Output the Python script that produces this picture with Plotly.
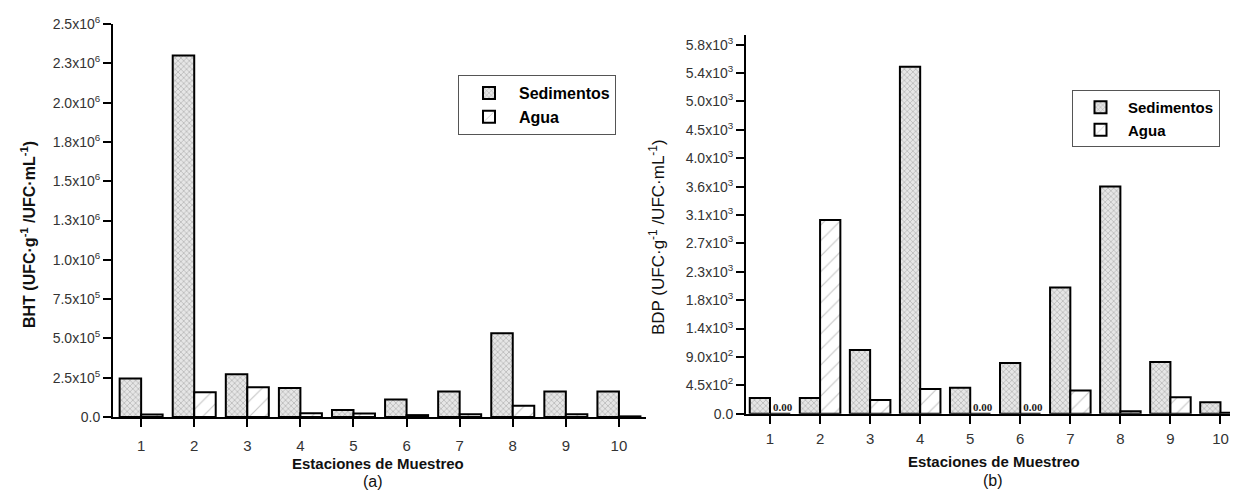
import plotly.graph_objects as go

stations = [1, 2, 3, 4, 5, 6, 7, 8, 9, 10]

# Panel (a): BHT
bht_sed = [245000, 2300000, 272000, 185000, 45000, 112000, 163000, 532000, 163000, 163000]
bht_agua = [16000, 158000, 190000, 24000, 22000, 12000, 18000, 72000, 18000, 4000]
bht_tickvals = [0, 250000, 500000, 750000, 1000000, 1250000, 1500000, 1750000, 2000000, 2250000, 2500000]
bht_ticktext = ["0.0", "2.5x10<sup>5</sup>", "5.0x10<sup>5</sup>", "7.5x10<sup>5</sup>",
                "1.0x10<sup>6</sup>", "1.3x10<sup>6</sup>", "1.5x10<sup>6</sup>", "1.8x10<sup>6</sup>",
                "2.0x10<sup>6</sup>", "2.3x10<sup>6</sup>", "2.5x10<sup>6</sup>"]

# Panel (b): BDP
bdp_sed = [250, 250, 1010, 5500, 413, 805, 2000, 3600, 820, 180]
bdp_agua = [0, 3070, 217, 391, 0, 0, 366, 40, 260, 15]
bdp_tickvals = [0, 450, 900, 1350, 1800, 2250, 2700, 3150, 3600, 4050, 4500, 4950, 5400, 5850]
bdp_ticktext = ["0.0", "4.5x10<sup>2</sup>", "9.0x10<sup>2</sup>", "1.4x10<sup>3</sup>",
                "1.8x10<sup>3</sup>", "2.3x10<sup>3</sup>", "2.7x10<sup>3</sup>", "3.1x10<sup>3</sup>",
                "3.6x10<sup>3</sup>", "4.0x10<sup>3</sup>", "4.5x10<sup>3</sup>", "5.0x10<sup>3</sup>",
                "5.4x10<sup>3</sup>", "5.8x10<sup>3</sup>"]

FONT = "Liberation Sans, Arial, sans-serif"
sed_pattern = dict(shape="x", fgcolor="#5a5a5a", bgcolor="#e6e6e6", size=4, solidity=0.25)
agua_pattern = dict(shape="/", fgcolor="#8a8a8a", bgcolor="white", size=11, solidity=0.1)
line = dict(color="black", width=2)

fig = go.Figure()
fig.add_trace(go.Bar(x=stations, y=bht_sed, name="Sedimentos", marker=dict(color="#e6e6e6", pattern=sed_pattern, line=line),
                     xaxis="x", yaxis="y", legend="legend", offsetgroup="s"))
fig.add_trace(go.Bar(x=stations, y=bht_agua, name="Agua", marker=dict(color="white", pattern=agua_pattern, line=line),
                     xaxis="x", yaxis="y", legend="legend", offsetgroup="a"))
fig.add_trace(go.Bar(x=stations, y=bdp_sed, name="Sedimentos", marker=dict(color="#e6e6e6", pattern=sed_pattern, line=line),
                     xaxis="x2", yaxis="y2", legend="legend2", offsetgroup="s"))
fig.add_trace(go.Bar(x=stations, y=bdp_agua, name="Agua", marker=dict(color="white", pattern=agua_pattern, line=line),
                     xaxis="x2", yaxis="y2", legend="legend2", offsetgroup="a"))

zx = [s + 0.25 for s, v in zip(stations, bdp_agua) if v == 0]
zy = [v for v in bdp_agua if v == 0]
fig.add_trace(go.Scatter(x=zx, y=zy, mode="text", text=[f"<b>{v:.2f}</b>" for v in zy], textposition="top center",
                         textfont=dict(family="Liberation Serif, serif", size=11, color="#222"),
                         xaxis="x2", yaxis="y2", showlegend=False, hoverinfo="skip"))

# page is rendered with an 8px body margin; map page pixel coords to figure fractions
OFF = 8
W, H = 1238 - OFF, 492 - OFF
def px(v): return (v - OFF) / W
def py(v): return 1 - (v - OFF) / H

axis_common = dict(showline=True, linecolor="black", linewidth=2, ticks="outside", ticklen=8, tickwidth=2,
                   tickcolor="black", showgrid=False, zeroline=False, mirror=False, automargin=False)
yfont = dict(family=FONT, size=14, color="#333")
xfont = dict(family=FONT, size=15, color="#333")

fig.update_layout(
    width=W, height=H, margin=dict(l=0, r=0, t=0, b=0, autoexpand=False),
    paper_bgcolor="white", plot_bgcolor="white",
    barmode="group", bargap=0.19, bargroupgap=0,
    xaxis=dict(domain=[px(113), px(646)], range=[0.47, 10.51], tickvals=stations, anchor="y",
               tickfont=xfont, ticklabelstandoff=6, **axis_common),
    yaxis=dict(domain=[py(417), py(24)], range=[0, 2500000], tickvals=bht_tickvals, ticktext=bht_ticktext,
               anchor="x", tickfont=yfont, **axis_common),
    xaxis2=dict(domain=[px(746), 1.0], range=[0.52, 10.35], tickvals=stations, anchor="y2",
                tickfont=xfont, ticklabelstandoff=2, **axis_common),
    yaxis2=dict(domain=[py(413.7), py(35.2)], range=[0, 6000], tickvals=bdp_tickvals, ticktext=bdp_ticktext,
                anchor="x2", tickfont=yfont, **axis_common),
    legend=dict(x=px(458), y=py(75), xanchor="left", yanchor="top", bordercolor="#555", borderwidth=1,
                bgcolor="white", font=dict(family=FONT, size=16, color="black", weight="bold"),
                tracegroupgap=0, itemwidth=50),
    legend2=dict(x=px(1072), y=py(90), xanchor="left", yanchor="top", bordercolor="#555", borderwidth=1,
                 bgcolor="white", font=dict(family=FONT, size=15, color="black", weight="bold"),
                 tracegroupgap=0, itemwidth=45),
    showlegend=True,
)

ann = [
    dict(text="<b>Estaciones de Muestreo</b>", x=px(378), y=py(463), font=dict(size=15)),
    dict(text="(a)", x=px(373), y=py(481), font=dict(size=16)),
    dict(text="<b>Estaciones de Muestreo</b>", x=px(994), y=py(461), font=dict(size=15)),
    dict(text="(b)", x=px(993), y=py(480), font=dict(size=16)),
    dict(text="<b>BHT (UFC·g<sup>-1</sup> /UFC·mL<sup>-1</sup>)</b>", x=px(28), y=py(235), textangle=-90, font=dict(size=16)),
    dict(text="BDP (UFC·g<sup>-1</sup> /UFC·mL<sup>-1</sup>)", x=px(657), y=py(237), textangle=-90, font=dict(size=17)),
]
for a in ann:
    a.update(xref="paper", yref="paper", showarrow=False, xanchor="center", yanchor="middle")
    a["font"].update(family=FONT, color="#111")
fig.update_layout(annotations=ann)

fig.write_html("out.html")
